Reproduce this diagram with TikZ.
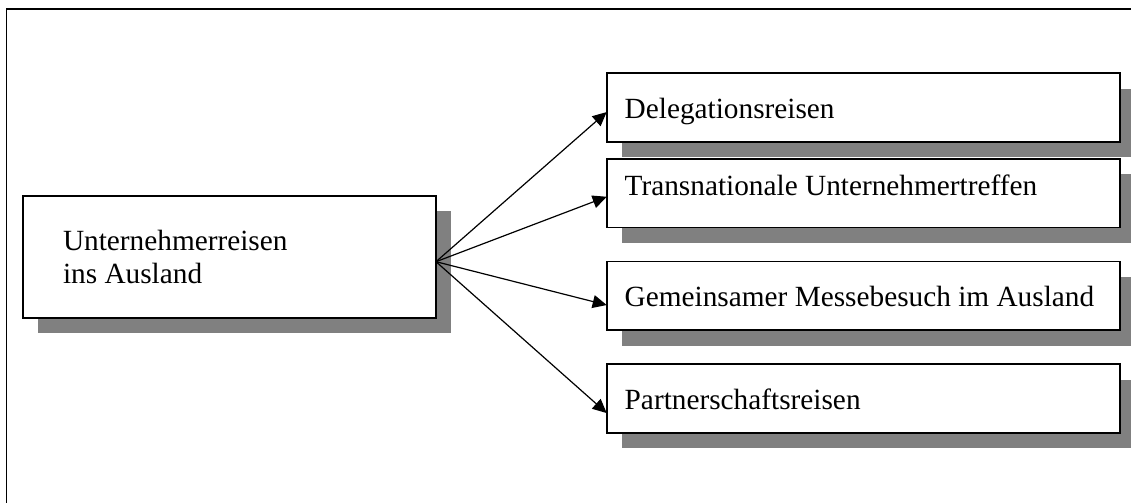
\documentclass[tikz,border=0pt]{standalone}
\usepackage{fontspec}
\setmainfont{Liberation Serif}
\usetikzlibrary{positioning,shadows,arrows.meta}

\begin{document}
\begin{tikzpicture}[
			% 带阴影的长方形
			hauptbox/.style={rectangle, draw=black, line width=0.85pt, fill=white, outer sep=0pt, minimum width=206.5pt, minimum height=61pt, text width=166.5pt, inner xsep=20pt, align=flush left, font=\fontsize{14.65pt}{16.5pt}\selectfont, drop shadow={shadow xshift=7.7pt, shadow yshift=-7.7pt, fill=black!50, opacity=1, draw=none}},
			% 右边的四个框
			zielbox/.style={hauptbox, minimum width=256.5pt, minimum height=34.35pt, text width=238.5pt, inner xsep=9pt, text height=11.5pt, text depth=0.6pt},
			% 箭头
			pfeil/.style={-{Triangle[length=7pt, width=6.5pt]}, line width=0.6pt}
		]
		\useasboundingbox (0,0) rectangle (565.5pt,-251.5pt);
		% 外框,只看得见上边和左边
		\draw[line width=0.85pt] (565.5pt,-4.6pt) -| (3.25pt,-251.5pt);

		%Nodes
		\node[hauptbox]      (reise)        at (114.75pt,-128.5pt)                              {Unternehmerreisen\\ins Ausland};
		\node[zielbox]       (delegation)   [above right=57.5pt and 85.35pt of reise.east]     {Delegationsreisen};
		\node[zielbox, text height=7pt, text depth=5pt]
		                     (treffen)      [below=8.35pt of delegation]                         {Transnationale Unternehmertreffen};
		\node[zielbox]       (messe)        [below=17pt of treffen]                              {Gemeinsamer Messebesuch im Ausland};
		\node[zielbox]       (partner)      [below=17pt of messe]                                {Partnerschaftsreisen};

		%Lines
		\draw[pfeil] ([yshift=-2.35pt]reise.east)   --   ([yshift=-2.2pt]delegation.west);
		\draw[pfeil] ([yshift=-2.35pt]reise.east)   --   ([yshift=-1.85pt]treffen.west);
		\draw[pfeil] ([yshift=-2.35pt]reise.east)   --   ([yshift=-4.65pt]messe.west);
		\draw[pfeil] ([yshift=-2.35pt]reise.east)   --   ([yshift=-7.3pt]partner.west);
	\end{tikzpicture}
\end{document}
